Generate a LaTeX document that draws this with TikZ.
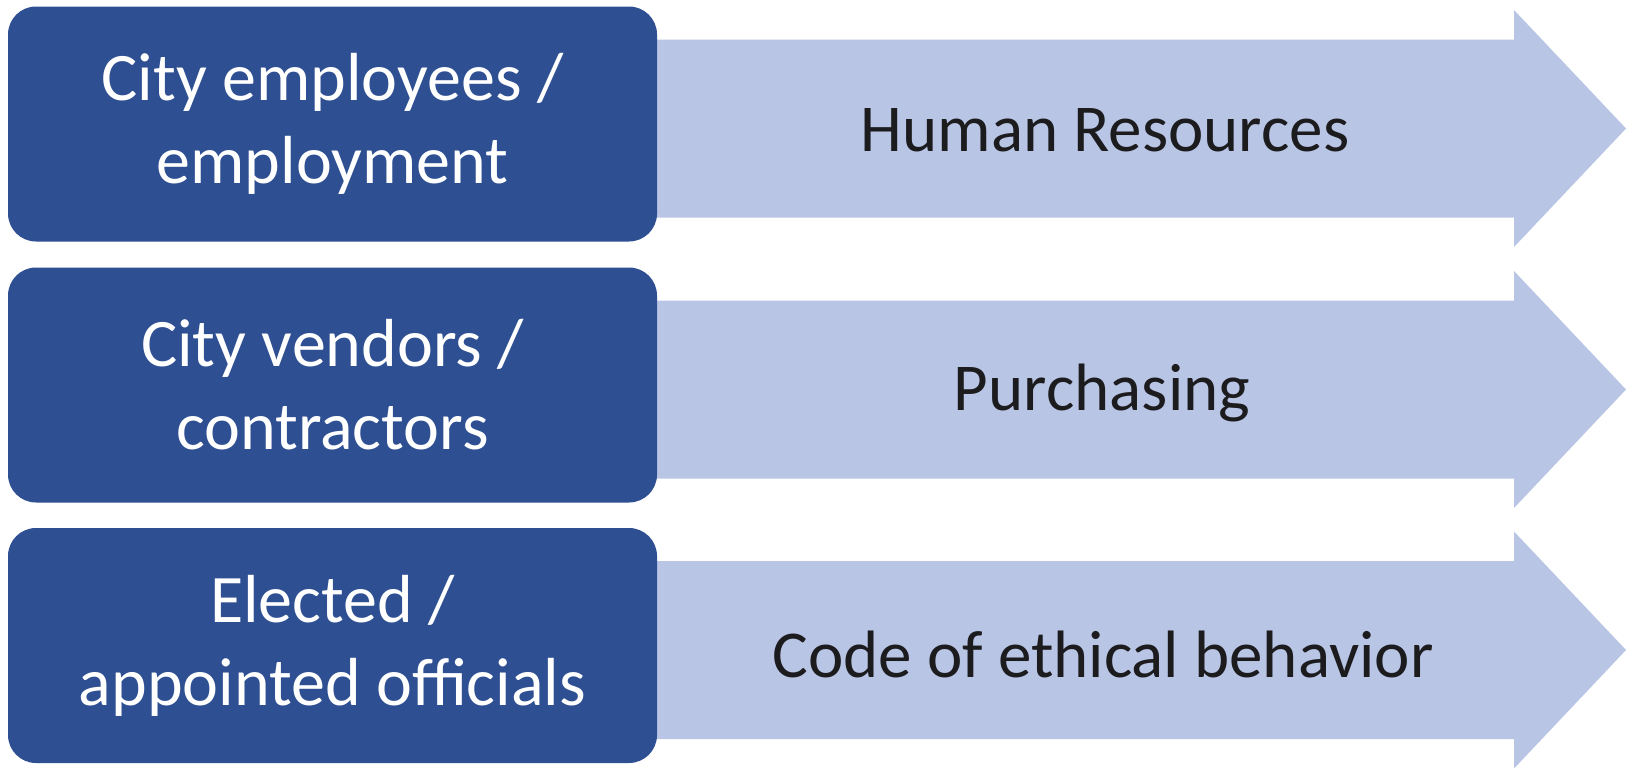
\documentclass[tikz,border=0pt]{standalone}
\usepackage{fontspec}
\setmainfont{Carlito}
\definecolor{boxblue}{RGB}{46,79,146}
\definecolor{arrowblue}{RGB}{185,197,229}
\definecolor{txtdark}{RGB}{28,28,30}
\tikzset{
  catbox/.style={rectangle, rounded corners=28pt, fill=boxblue, draw=none,
    minimum width=649pt, minimum height=235pt, inner sep=0pt, align=center,
    text=white, font=\fontsize{68}{83}\selectfont},
  arrowlbl/.style={inner sep=0pt, text=txtdark, font=\fontsize{67}{80}\selectfont},
  bigarrow/.style={fill=arrowblue, draw=none}
}
\newcommand{\bigarrowat}[1]{%
  \fill[bigarrow] (640,#1-89) -- (1514,#1-89) -- (1514,#1-118.5) -- (1626,#1)
    -- (1514,#1+118.5) -- (1514,#1+89) -- (640,#1+89) -- cycle;}
\begin{document}
\begin{tikzpicture}[x=1pt,y=-1pt]
\useasboundingbox (0,0) rectangle (1627,771);
\fill[white] (0,0) rectangle (1627,771);
% arrows
\bigarrowat{128.5}
\bigarrowat{389.5}
\bigarrowat{650}
% boxes
\node[catbox] (b1) at (332.5,124) {City employees /\\employment};
\node[catbox] (b2) at (332.5,385) {City vendors /\\contractors};
\node[catbox] (b3) at (332.5,645.5) {Elected /\\appointed officials};
% arrow labels
\node[arrowlbl] (l1) at (1105,130) {Human Resources};
\node[arrowlbl] (l2) at (1102,393) {Purchasing};
\node[arrowlbl] (l3) at (1103,654) {Code of ethical behavior};
\end{tikzpicture}
\end{document}
